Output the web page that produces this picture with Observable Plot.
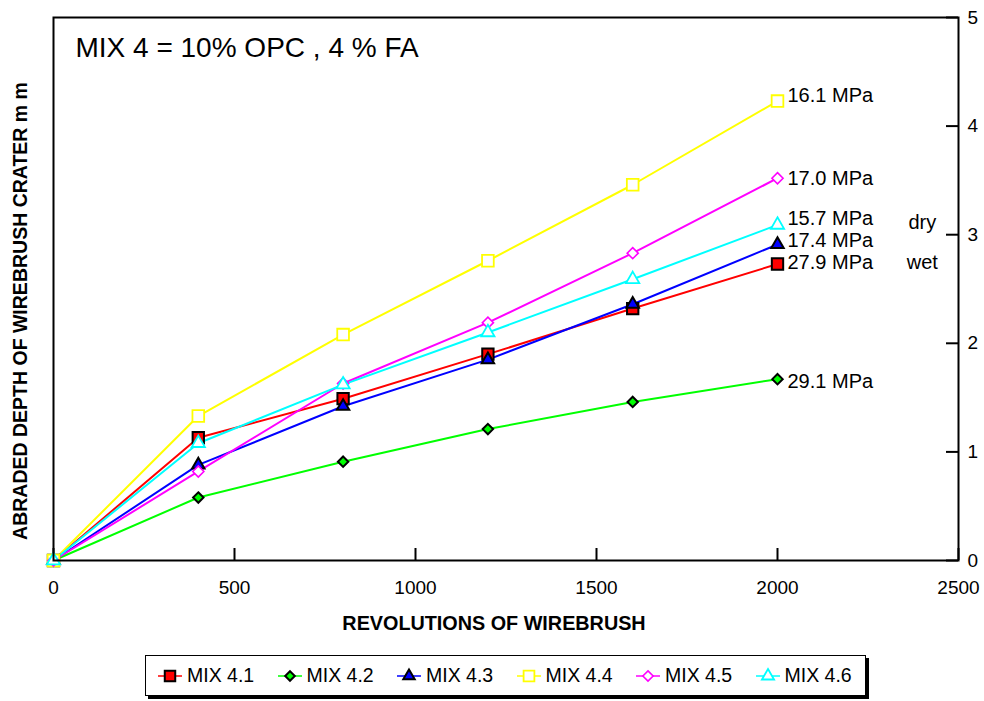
<!DOCTYPE html>
<html>
<head>
<meta charset="utf-8">
<script src="https://cdn.jsdelivr.net/npm/d3@7"></script>
<script src="https://cdn.jsdelivr.net/npm/@observablehq/plot@0.6"></script>
<style>
  body { margin: 0; background: #fff; font-family: "Liberation Sans", Arial, sans-serif; }
  #wrap { position: relative; width: 984px; height: 701px; }
  #legend {
    position: absolute; left: 145px; top: 655px; width: 721px; height: 41px;
    border: 1px solid #000; box-shadow: 3px 3px 0 #000; background: #fff;
    display: flex; align-items: center; box-sizing: border-box; padding-left: 11px;
  }
  .item { display: flex; align-items: center; width: 119.5px; flex: none; }
  .item span { font-size: 19.5px; color: #000; margin-left: 4px; }
</style>
</head>
<body>
<div id="wrap"><div id="chart"></div><div id="legend"></div></div>
<script>
// ---- data ----
const revolutions = [0, 400, 800, 1200, 1600, 2000];
const mixNames = ["MIX 4.1", "MIX 4.2", "MIX 4.3", "MIX 4.4", "MIX 4.5", "MIX 4.6"];
const mix41 = [0, 1.13, 1.49, 1.90, 2.32, 2.73];
const mix42 = [0, 0.58, 0.91, 1.21, 1.46, 1.67];
const mix43 = [0, 0.88, 1.42, 1.85, 2.36, 2.91];
const mix44 = [0, 1.33, 2.08, 2.76, 3.46, 4.23];
const mix45 = [0, 0.82, 1.63, 2.19, 2.83, 3.52];
const mix46 = [0, 1.08, 1.62, 2.10, 2.59, 3.09];
const strengthLabels = ["27.9 MPa", "29.1 MPa", "17.4 MPa", "16.1 MPa", "17.0 MPa", "15.7 MPa"];
const noteTexts = ["dry", "wet"];
const noteX = [2400, 2400];
const noteY = [3.11, 2.74];
const xTicks = [0, 500, 1000, 1500, 2000, 2500];
const yTicks = [0, 1, 2, 3, 4, 5];
const chartTitle = "MIX 4 = 10% OPC , 4 % FA";
const xTitle = "REVOLUTIONS OF WIREBRUSH";
const yTitle = "ABRADED DEPTH OF WIREBRUSH CRATER m m";

// ---- styles ----
const seriesValues = [mix41, mix42, mix43, mix44, mix45, mix46];
const styles = [
  {color: "#ff0000", symbol: "square",   fill: "#ff0000", stroke: "#000", sw: 2,   r: 6.4, d3s: d3.symbolSquare,   labelDy: -1},
  {color: "#00ff00", symbol: "diamond2", fill: "#00ff00", stroke: "#000", sw: 2,   r: 4.7, d3s: d3.symbolDiamond2, labelDy: 2},
  {color: "#0000ff", symbol: "triangle", fill: "#0000ff", stroke: "#000", sw: 2,   r: 4.6, d3s: d3.symbolTriangle, labelDy: -4},
  {color: "#ffff00", symbol: "square",   fill: "#fff",    stroke: "#ffff00", sw: 1.8, r: 6.6, d3s: d3.symbolSquare, labelDy: -6},
  {color: "#ff00ff", symbol: "diamond2", fill: "#fff",    stroke: "#ff00ff", sw: 1.6, r: 5.0, d3s: d3.symbolDiamond2, labelDy: 0},
  {color: "#00ffff", symbol: "triangle", fill: "#fff",    stroke: "#00ffff", sw: 1.8, r: 4.9, d3s: d3.symbolTriangle, labelDy: -6}
];

const series = mixNames.map((name, i) => ({
  name, style: styles[i],
  rows: revolutions.map((r, j) => ({rev: r, depth: seriesValues[i][j]}))
}));

const W = 984, H = 645;
const mL = 53, mR = 26, mT = 17, mB = 85;
const frameW = W - mL - mR, frameH = H - mT - mB;
const tickLen = 12;

const marks = [];
marks.push(Plot.axisX(xTicks, {tickSize: 0, tickPadding: 20, tickFormat: d => String(d), fontSize: 19, label: null}));
marks.push(Plot.axisY(yTicks, {anchor: "right", tickSize: 0, tickPadding: 9, tickFormat: d => String(d), fontSize: 19, label: null}));
marks.push(Plot.tickX(xTicks, {x: d => d, insetTop: frameH - tickLen, stroke: "#000", strokeWidth: 2}));
marks.push(Plot.tickY(yTicks, {y: d => d, insetLeft: frameW - tickLen, stroke: "#000", strokeWidth: 2}));

series.forEach(s => {
  marks.push(Plot.line(s.rows, {x: "rev", y: "depth", stroke: s.style.color, strokeWidth: 2}));
});
series.forEach(s => {
  const st = s.style;
  marks.push(Plot.dot(s.rows, {x: "rev", y: "depth", symbol: () => st.symbol, r: st.r,
    fill: st.fill, stroke: st.stroke, strokeWidth: st.sw}));
});
series.forEach((s, i) => {
  const last = s.rows[s.rows.length - 1];
  marks.push(Plot.text([last], {x: "rev", y: "depth", text: () => strengthLabels[i],
    textAnchor: "start", dx: 10, dy: s.style.labelDy, fontSize: 20, fill: "#000"}));
});
marks.push(Plot.text(noteTexts, {x: (d, i) => noteX[i], y: (d, i) => noteY[i], text: d => d, fontSize: 20, fill: "#000"}));
marks.push(Plot.frame({stroke: "#000", strokeWidth: 2}));
marks.push(Plot.text([chartTitle], {frameAnchor: "top-left", text: d => d, textAnchor: "start", lineAnchor: "middle", dx: 22, dy: 31, fontSize: 28, fill: "#000"}));
marks.push(Plot.text([xTitle], {frameAnchor: "bottom", text: d => d, textAnchor: "middle", lineAnchor: "middle", dx: -12, dy: 63, fontSize: 19.8, fontWeight: "bold", fill: "#000"}));
marks.push(Plot.text([yTitle], {frameAnchor: "left", text: d => d, textAnchor: "middle", lineAnchor: "middle", rotate: -90, dx: -33, dy: 22, fontSize: 19.5, fontWeight: "bold", fill: "#000"}));

const chart = Plot.plot({
  width: W, height: H,
  marginLeft: mL, marginRight: mR, marginTop: mT, marginBottom: mB,
  style: {fontFamily: "'Liberation Sans', Arial, sans-serif", fontSize: "19px", color: "#000", background: "#fff", overflow: "visible"},
  x: {domain: [0, 2500]},
  y: {domain: [0, 5]},
  symbol: {type: "identity"},
  marks
});
document.getElementById("chart").appendChild(chart);

// ---- legend ----
const legend = d3.select("#legend");
series.forEach(s => {
  const st = s.style;
  const item = legend.append("div").attr("class", "item");
  const svg = item.append("svg").attr("width", 26).attr("height", 20);
  svg.append("line").attr("x1", 1).attr("x2", 25).attr("y1", 10).attr("y2", 10)
    .attr("stroke", st.color).attr("stroke-width", 1.5);
  svg.append("path").attr("transform", "translate(13,10)")
    .attr("d", d3.symbol(st.d3s, Math.PI * st.r * st.r * 0.85)())
    .attr("fill", st.fill).attr("stroke", st.stroke).attr("stroke-width", st.sw);
  item.append("span").text(s.name);
});
</script>
</body>
</html>
